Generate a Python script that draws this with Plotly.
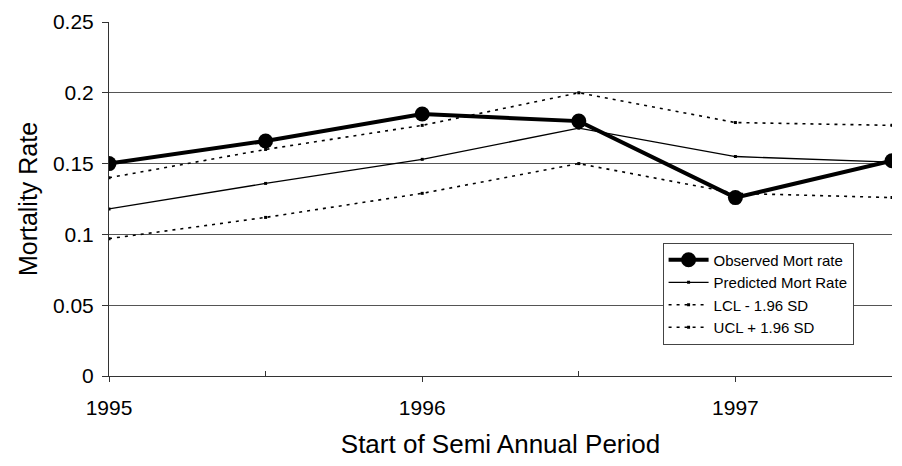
import plotly.graph_objects as go

periods = [1995.0, 1995.5, 1996.0, 1996.5, 1997.0, 1997.5]
observed = [0.150, 0.166, 0.185, 0.180, 0.126, 0.152]
predicted = [0.118, 0.136, 0.153, 0.175, 0.155, 0.151]
lcl = [0.097, 0.112, 0.129, 0.150, 0.129, 0.126]
ucl = [0.140, 0.160, 0.177, 0.200, 0.179, 0.177]
x_ticks = [1995, 1996, 1997]
x_tick_labels = ["1995", "1996", "1997"]
x_minor_ticks = [1995.5, 1996.5]
y_ticks = [0, 0.05, 0.1, 0.15, 0.2, 0.25]
y_tick_labels = ["0", "0.05", "0.1", "0.15", "0.2", "0.25"]

FONT = "Liberation Sans, Arial, sans-serif"

fig = go.Figure()
fig.add_trace(go.Scatter(
    x=periods, y=observed, name="Observed Mort rate", mode="lines+markers",
    line=dict(color="black", width=4),
    marker=dict(symbol="circle", size=15, color="black"),
))
fig.add_trace(go.Scatter(
    x=periods, y=predicted, name="Predicted Mort Rate", mode="lines+markers",
    line=dict(color="black", width=1.3),
    marker=dict(symbol="square", size=3, color="black"),
))
fig.add_trace(go.Scatter(
    x=periods, y=lcl, name="LCL - 1.96 SD", mode="lines+markers",
    line=dict(color="black", width=1.6, dash="3px,5px"),
    marker=dict(symbol="square", size=3, color="black"),
))
fig.add_trace(go.Scatter(
    x=periods, y=ucl, name="UCL + 1.96 SD", mode="lines+markers",
    line=dict(color="black", width=1.6, dash="3px,5px"),
    marker=dict(symbol="square", size=3, color="black"),
))

fig.update_layout(
    width=902, height=466,
    margin=dict(l=109, r=10, t=22, b=90),
    paper_bgcolor="white", plot_bgcolor="white",
    font=dict(family=FONT, color="black"),
    showlegend=True,
    legend=dict(
        x=0.707, y=0.377, xanchor="left", yanchor="top",
        bgcolor="white", bordercolor="#444", borderwidth=1,
        font=dict(size=15, family=FONT),
        tracegroupgap=0, itemwidth=40,
    ),
)
fig.update_xaxes(
    range=[1995, 1997.5],
    tickvals=x_ticks, ticktext=x_tick_labels,
    ticks="outside", ticklen=5, tickcolor="#333",
    ticklabelstandoff=8,
    minor=dict(tickvals=x_minor_ticks, ticks="inside", ticklen=5, tickcolor="#333"),
    showgrid=False, zeroline=False,
    showline=True, linecolor="#333", linewidth=1,
    tickfont=dict(size=21),
    title=dict(text="Start of Semi Annual Period", font=dict(size=26), standoff=16),
)
fig.update_yaxes(
    range=[0, 0.25],
    tickvals=y_ticks, ticktext=y_tick_labels,
    ticks="outside", ticklen=6, tickcolor="#333",
    ticklabelstandoff=4,
    showgrid=True, gridcolor="#555", gridwidth=1,
    zeroline=False,
    showline=True, linecolor="#333", linewidth=1,
    tickfont=dict(size=21),
    title=dict(text="Mortality Rate", font=dict(size=25), standoff=8),
)

fig.write_html("out.html")
